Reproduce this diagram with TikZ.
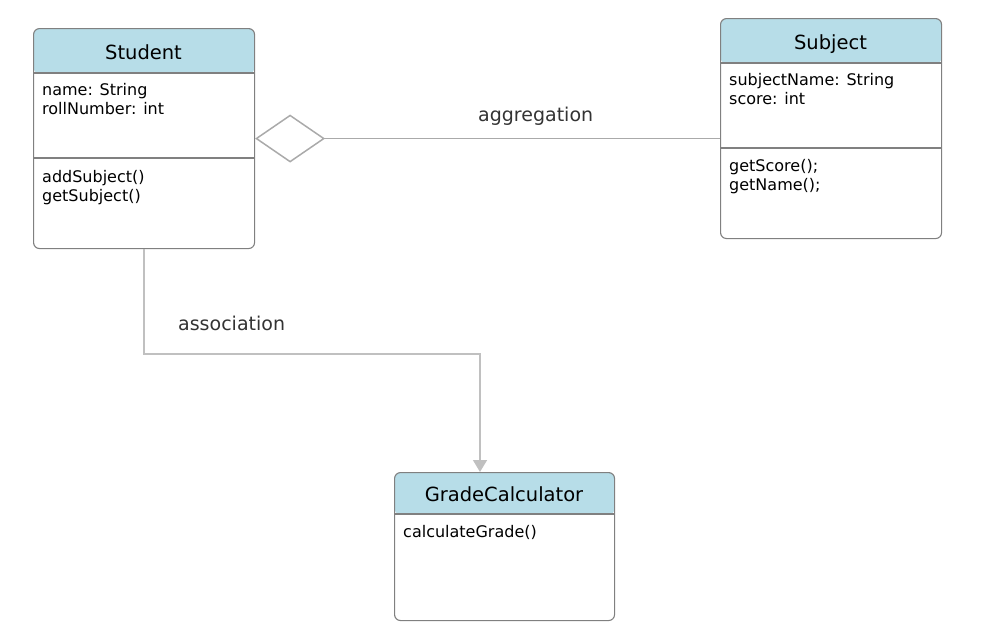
\documentclass[tikz,border=0pt]{standalone}
\usepackage{fontspec}
\setmainfont{DejaVu Sans}
\usetikzlibrary{calc,arrows.meta}
\definecolor{headblue}{HTML}{B7DDE8}
\definecolor{boxline}{HTML}{808080}
\definecolor{linkgray}{HTML}{C0C0C0}
\definecolor{diamondgray}{HTML}{AAAAAA}
\definecolor{labelgray}{HTML}{333333}
\begin{document}
\begin{tikzpicture}[x=1pt,y=-1pt,
  classbox/.style={draw=boxline, line width=1.1pt, rounded corners=6pt,
    anchor=north west, inner sep=0pt,
    path picture={\fill[headblue] (path picture bounding box.north west)
      rectangle ([yshift=-#1pt]path picture bounding box.north east);}},
  divider/.style={draw=boxline, line width=1.1pt},
  titletext/.style={anchor=base, inner sep=0pt, font=\fontsize{19.5}{23}\selectfont},
  membertext/.style={anchor=base west, inner sep=0pt, font=\fontsize{16}{19}\selectfont},
  linklabel/.style={anchor=base west, inner sep=0pt, text=labelgray, font=\fontsize{19}{23}\selectfont},
  assoc/.style={draw=linkgray, line width=1.5pt},
  aggr/.style={draw=diamondgray, line width=1.5pt}
]
\useasboundingbox (0,0) rectangle (982,637);

% Student class
\node[classbox=45, minimum width=221pt, minimum height=220pt] (student) at (33,28) {};
\draw[divider] ($(student.north west)+(0,45)$) -- ($(student.north east)+(0,45)$);
\draw[divider] ($(student.north west)+(0,130)$) -- ($(student.north east)+(0,130)$);
\node[titletext] (student-title) at (143.5,59.5) {Student};
\node[membertext] (student-a1) at (42,95.5) {name: String};
\node[membertext] (student-a2) at (42,114.5) {rollNumber: int};
\node[membertext] (student-m1) at (42,182) {addSubject()};
\node[membertext] (student-m2) at (42,201) {getSubject()};

% Subject class
\node[classbox=45, minimum width=221pt, minimum height=220pt] (subject) at (720,18) {};
\draw[divider] ($(subject.north west)+(0,45)$) -- ($(subject.north east)+(0,45)$);
\draw[divider] ($(subject.north west)+(0,130)$) -- ($(subject.north east)+(0,130)$);
\node[titletext] (subject-title) at (830.5,49.5) {Subject};
\node[membertext] (subject-a1) at (729,85.5) {subjectName: String};
\node[membertext] (subject-a2) at (729,104.5) {score: int};
\node[membertext] (subject-m1) at (729,171.5) {getScore();};
\node[membertext] (subject-m2) at (729,190.5) {getName();};

% GradeCalculator class
\node[classbox=42, minimum width=220pt, minimum height=148pt] (grade) at (394,472) {};
\draw[divider] ($(grade.north west)+(0,42)$) -- ($(grade.north east)+(0,42)$);
\node[titletext] (grade-title) at (504,501.5) {GradeCalculator};
\node[membertext] (grade-m1) at (403,537) {calculateGrade()};

% Aggregation: Student owns Subjects
\draw[aggr, {Diamond[open, length=70pt, width=48pt]}-] (student.east) -- (subject.west |- student.east);
\node[linklabel] (aggr-label) at (478,121.5) {aggregation};

% Association: Student uses GradeCalculator
\coordinate (bend) at (480,354);
\draw[assoc, -{Triangle[length=12pt, width=14pt]}] (student.south) |- (bend) -- (bend |- grade.north);
\node[linklabel] (assoc-label) at (178,330.5) {association};
\end{tikzpicture}
\end{document}
